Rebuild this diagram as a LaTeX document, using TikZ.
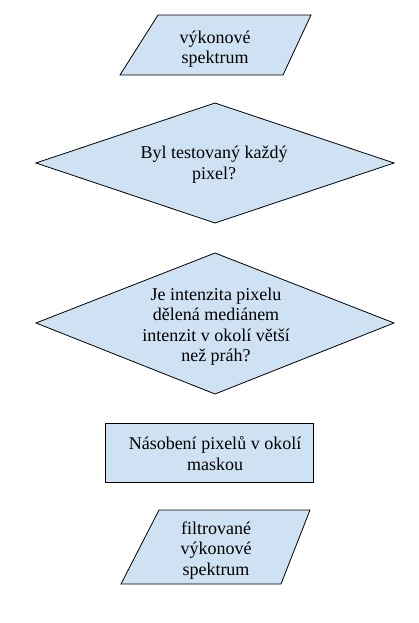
\documentclass[tikz,border=0pt]{standalone}
\usepackage{fontspec}
\setmainfont{Liberation Serif}
\definecolor{boxblue}{HTML}{CFE2F3}
\begin{document}
\begin{tikzpicture}[x=1pt,y=-1pt,
  shp/.style={fill=boxblue, draw=black, line width=0.8pt, line join=miter},
  lbl/.style={align=center, font=\fontsize{18}{20.5}\selectfont, inner sep=0pt, anchor=base}]
\useasboundingbox (0,0) rectangle (419,623);
% input parallelogram
\draw[shp] (158,15) -- (311,15) -- (283,75) -- (120,75) -- cycle;
\node[lbl] (vstup) at (215,64) {výkonové\\spektrum};
% decision 1
\draw[shp] (215,103) -- (394,163) -- (215,223) -- (36,163) -- cycle;
\node[lbl] (rozh1) at (214,179) {Byl testovaný každý\\pixel?};
% decision 2
\draw[shp] (215,253) -- (394,323) -- (215,394) -- (36,323) -- cycle;
\node[lbl] (rozh2) at (216,361.5) {Je intenzita pixelu\\dělená mediánem\\intenzit v okolí větší\\než práh?};
% process
\draw[shp] (105,423) rectangle (313,482);
\node[lbl] (proces) at (215,470) {Násobení pixelů v okolí\\maskou};
% output parallelogram
\draw[shp] (159,510) -- (310,510) -- (281,584) -- (121,584) -- cycle;
\node[lbl] (vystup) at (216,575) {filtrované\\výkonové\\spektrum};
\end{tikzpicture}
\end{document}
